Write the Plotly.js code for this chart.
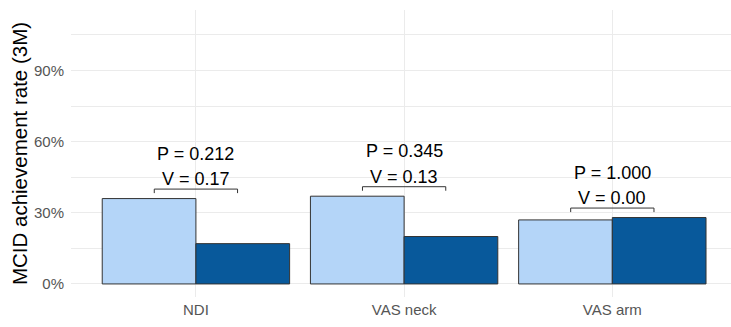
<!DOCTYPE html>
<html>
<head>
<meta charset="utf-8">
<script src="https://cdn.plot.ly/plotly-3.0.1.min.js"></script>
<style>
  html, body { margin: 0; padding: 0; background: #fff; overflow: hidden; }
  #chart { width: 731px; height: 327px; }
</style>
</head>
<body>
<div id="chart"></div>
<script>
// Outcome measures on the x axis
const categories = ["NDI", "VAS neck", "VAS arm"];
// MCID achievement rate at 3 months (%) for the two groups
const groupA = [36, 37, 27];
const groupB = [17, 20, 28];
// Test results printed over each pair of bars
const pLabels = ["P = 0.212", "P = 0.345", "P = 1.000"];
const vLabels = ["V = 0.17", "V = 0.13", "V = 0.00"];
// Y axis ticks
const yTicks = [0, 30, 60, 90];
const yTickText = ["0%", "30%", "60%", "90%"];

const lineStyle = { color: "#333333", width: 1 };

const traces = [
  {
    type: "bar", x: categories, y: groupA, name: "A",
    marker: { color: "#b4d5f8", line: lineStyle },
    hoverinfo: "skip"
  },
  {
    type: "bar", x: categories, y: groupB, name: "B",
    marker: { color: "#08599b", line: lineStyle },
    hoverinfo: "skip"
  }
];

// Comparison brackets and their labels, placed above the taller bar of each pair
const shapes = [];
const annotations = [];
const halfSpan = 0.2;
categories.forEach((c, i) => {
  const top = Math.max(groupA[i], groupB[i]);
  const yBracket = top + 4;
  const yTip = yBracket - 1.7;
  const brLine = { type: "line", xref: "x", yref: "y", line: { color: "#333333", width: 1 } };
  shapes.push(Object.assign({}, brLine, { x0: i - halfSpan, x1: i + halfSpan, y0: yBracket, y1: yBracket }));
  shapes.push(Object.assign({}, brLine, { x0: i - halfSpan, x1: i - halfSpan, y0: yBracket, y1: yTip }));
  shapes.push(Object.assign({}, brLine, { x0: i + halfSpan, x1: i + halfSpan, y0: yBracket, y1: yTip }));
  const txt = { xref: "x", yref: "y", x: i, showarrow: false, yanchor: "middle",
                font: { family: "Liberation Sans, Arial, sans-serif", size: 18, color: "#000" } };
  annotations.push(Object.assign({}, txt, { y: yBracket + 4.2, text: vLabels[i] }));
  annotations.push(Object.assign({}, txt, { y: yBracket + 14.9, text: pLabels[i] }));
});

const gridColor = "#ebebeb";
const layout = {
  width: 731, height: 327,
  margin: { l: 71, r: 0, t: 10, b: 30 },
  paper_bgcolor: "#fff", plot_bgcolor: "#fff",
  showlegend: false,
  barmode: "group", bargap: 0.1, bargroupgap: 0,
  font: { family: "Liberation Sans, Arial, sans-serif" },
  xaxis: {
    type: "category",
    range: [-0.6, 2.57],
    showgrid: true, gridcolor: gridColor, gridwidth: 1,
    zeroline: false, showline: false, ticks: "",
    tickfont: { size: 15, color: "#555555" },
    ticklabelstandoff: 2
  },
  yaxis: {
    range: [-5.5, 115.5],
    tickmode: "array", tickvals: yTicks, ticktext: yTickText,
    showgrid: true, gridcolor: gridColor, gridwidth: 1,
    minor: { tickvals: [15, 45, 75, 105], showgrid: true, gridcolor: gridColor, gridwidth: 1, ticks: "" },
    zeroline: false, showline: false, ticks: "",
    tickfont: { size: 15, color: "#555555" },
    ticklabelstandoff: 6,
    automargin: false,
    title: { text: "MCID achievement rate (3M)", font: { size: 20.5, color: "#000" }, standoff: 0 }
  },
  shapes: shapes,
  annotations: annotations
};

Plotly.newPlot("chart", traces, layout, { displayModeBar: false, staticPlot: true });
</script>
</body>
</html>
